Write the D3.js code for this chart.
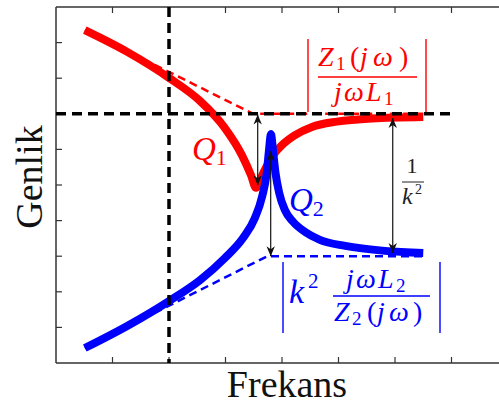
<!DOCTYPE html>
<html>
<head>
<meta charset="utf-8">
<script src="https://cdn.jsdelivr.net/npm/d3@7"></script>
<style>
  html, body { margin: 0; padding: 0; background: #fff; }
</style>
</head>
<body>
<script>
// Values (arbitrary frequency / amplitude units)
const xTicks = [0, 1, 2, 3, 4, 5, 6, 7, 8];
const yTicks = [0, 1, 2, 3, 4, 5, 6, 7, 8, 9, 10];

const redCurve = [
  [0.51, 9.35], [1.26, 8.74], [2.00, 8.01], [2.55, 7.36], [2.99, 6.60],
  [3.29, 5.84], [3.45, 5.28], [3.54, 4.92], [3.66, 5.31], [3.82, 5.79],
  [4.00, 6.12], [4.23, 6.40], [4.53, 6.63], [4.97, 6.78], [5.59, 6.87],
  [6.50, 6.91]
];
const blueCurve = [
  [0.51, 0.42], [1.26, 1.04], [2.00, 1.74], [2.55, 2.33], [2.99, 2.95],
  [3.31, 3.51], [3.52, 4.07], [3.65, 4.69], [3.73, 5.34], [3.77, 5.98],
  [3.805, 6.43], [3.84, 5.98], [3.885, 5.34], [3.95, 4.78], [4.05, 4.30],
  [4.20, 3.96], [4.41, 3.68], [4.67, 3.46], [5.12, 3.29], [5.82, 3.15],
  [6.50, 3.09]
];
const redAsymptote = [[0.51, 9.35], [3.49, 7.0], [6.5, 7.0]];
const blueAsymptote = [[0.51, 0.42], [3.74, 3.0], [6.5, 3.0]];

const cornerX = 2;      // vertical dashed guide
const levelY = 7;       // horizontal dashed guide
const levelEnd = 7;

// double arrows: x, y from, y to
const arrows = [
  [3.57, 6.98, 4.99],
  [3.80, 5.95, 3.0],
  [5.96, 6.88, 3.09]
];

const width = 499, height = 405;
const margin = { top: 7, left: 56, bottom: 42 };

const x = d3.scaleLinear().domain([0, 8]).range([margin.left, 508]);
const y = d3.scaleLinear().domain([0, 10]).range([height - margin.bottom, margin.top]);

const svg = d3.select("body").append("svg")
  .attr("width", width)
  .attr("height", height)
  .style("display", "block");

const defs = svg.append("defs");
defs.append("marker")
  .attr("id", "head")
  .attr("viewBox", "-11 -5 12 10")
  .attr("refX", 0)
  .attr("refY", 0)
  .attr("markerWidth", 12)
  .attr("markerHeight", 10)
  .attr("markerUnits", "userSpaceOnUse")
  .attr("orient", "auto-start-reverse")
  .append("path")
  .attr("d", "M0,0 L-10,-4.2 L-7,0 L-10,4.2 Z")
  .attr("fill", "#111");

// frame with inward ticks
const axisColor = "#333";
const frame = svg.append("g");
frame.append("line")
  .attr("x1", x(0)).attr("x2", x(0))
  .attr("y1", y(10)).attr("y2", y(0))
  .attr("stroke", axisColor).attr("stroke-width", 1.5);
[10, 0].forEach(v => {
  frame.append("line")
    .attr("x1", x(0)).attr("x2", width + 10)
    .attr("y1", y(v)).attr("y2", y(v))
    .attr("stroke", axisColor).attr("stroke-width", 1.5);
});

frame.selectAll(".ytick")
  .data(yTicks.slice(1, -1))
  .join("line")
  .attr("class", "ytick")
  .attr("x1", x(0)).attr("x2", x(0) + 6)
  .attr("y1", d => y(d)).attr("y2", d => y(d))
  .attr("stroke", axisColor).attr("stroke-width", 1.2);

frame.selectAll(".xtick-top")
  .data(xTicks.slice(1))
  .join("line")
  .attr("class", "xtick-top")
  .attr("x1", d => x(d)).attr("x2", d => x(d))
  .attr("y1", y(10)).attr("y2", y(10) + 6)
  .attr("stroke", axisColor).attr("stroke-width", 1.2);

frame.selectAll(".xtick-bot")
  .data(xTicks.slice(1))
  .join("line")
  .attr("class", "xtick-bot")
  .attr("x1", d => x(d)).attr("x2", d => x(d))
  .attr("y1", y(0)).attr("y2", y(0) - 6)
  .attr("stroke", axisColor).attr("stroke-width", 1.2);

// curves
const line = d3.line()
  .x(d => x(d[0]))
  .y(d => y(d[1]))
  .curve(d3.curveMonotoneX);
const straight = d3.line().x(d => x(d[0])).y(d => y(d[1]));

const red = "#ff0000", blue = "#0000ff";

svg.append("path")
  .attr("d", straight(redAsymptote))
  .attr("fill", "none").attr("stroke", red)
  .attr("stroke-width", 2.5).attr("stroke-dasharray", "8,5");

svg.append("path")
  .attr("d", straight(blueAsymptote))
  .attr("fill", "none").attr("stroke", blue)
  .attr("stroke-width", 2.5).attr("stroke-dasharray", "8,5");

svg.append("path")
  .attr("d", line(redCurve))
  .attr("fill", "none").attr("stroke", red)
  .attr("stroke-width", 8).attr("stroke-linejoin", "round");

svg.append("path")
  .attr("d", line(blueCurve))
  .attr("fill", "none").attr("stroke", blue)
  .attr("stroke-width", 8).attr("stroke-linejoin", "round");

// black dashed guides
svg.append("line")
  .attr("x1", x(0)).attr("x2", x(levelEnd))
  .attr("y1", y(levelY)).attr("y2", y(levelY))
  .attr("stroke", "#000").attr("stroke-width", 3.5)
  .attr("stroke-dasharray", "10,6");

svg.append("line")
  .attr("x1", x(cornerX)).attr("x2", x(cornerX))
  .attr("y1", y(10)).attr("y2", y(0))
  .attr("stroke", "#000").attr("stroke-width", 3.5)
  .attr("stroke-dasharray", "10,6");

// double arrows
svg.selectAll(".arrow")
  .data(arrows)
  .join("line")
  .attr("class", "arrow")
  .attr("x1", d => x(d[0])).attr("x2", d => x(d[0]))
  .attr("y1", d => y(d[1])).attr("y2", d => y(d[2]))
  .attr("stroke", "#111").attr("stroke-width", 1.2)
  .attr("marker-start", "url(#head)")
  .attr("marker-end", "url(#head)");

// math labels
const mathFont = "'Liberation Serif', 'DejaVu Serif', serif";

function qLabel(px, py, sub, color) {
  const t = svg.append("text")
    .attr("x", px).attr("y", py)
    .attr("fill", color)
    .style("font-family", mathFont)
    .style("font-size", "33px");
  t.append("tspan").style("font-style", "italic").text("Q");
  t.append("tspan").attr("dy", 5).style("font-size", "22px").text(sub);
}
qLabel(192, 160, "1", red);
qLabel(289, 211, "2", blue);

// glyph-by-glyph placement: [text, x, baseline shift, size, italic]
function term(g, base, parts, color, size) {
  const t = g.append("text")
    .attr("fill", color)
    .style("font-family", mathFont)
    .style("font-size", size + "px");
  parts.forEach(([s, px, dy, fs, it]) => {
    t.append("tspan")
      .attr("x", px)
      .attr("y", base + (dy || 0))
      .style("font-size", (fs || size) + "px")
      .style("font-style", it ? "italic" : "normal")
      .text(s);
  });
  return t;
}

// |Z1(jw) / jwL1|
const redLabel = svg.append("g");
[308, 426].forEach(bx => redLabel.append("line")
  .attr("x1", bx).attr("x2", bx).attr("y1", 39).attr("y2", 112)
  .attr("stroke", red).attr("stroke-width", 1.4));
term(redLabel, 66, [
  ["Z", 318, 0, 28, true], ["1", 336, 4, 19], ["(", 350, 0], ["j", 360, 0, 28, true],
  ["ω", 373, 0, 28, true], [")", 399, 0]
], red, 28);
redLabel.append("line")
  .attr("x1", 318).attr("x2", 417).attr("y1", 77).attr("y2", 77)
  .attr("stroke", red).attr("stroke-width", 1.3);
term(redLabel, 101, [
  ["j", 334, 0, 28, true], ["ω", 344, 0, 28, true], ["L", 366, 0, 28, true],
  ["1", 384, 4, 19]
], red, 28);

// |k^2 jwL2 / Z2(jw)|
const blueLabel = svg.append("g");
[283, 440].forEach(bx => blueLabel.append("line")
  .attr("x1", bx).attr("x2", bx).attr("y1", 262).attr("y2", 333)
  .attr("stroke", blue).attr("stroke-width", 1.4));
term(blueLabel, 303, [
  ["k", 289, 0, 34, true], ["2", 308, -15, 21]
], blue, 34);
term(blueLabel, 288, [
  ["j", 346, 0, 28, true], ["ω", 356, 0, 28, true], ["L", 378, 0, 28, true],
  ["2", 396, 4, 19]
], blue, 28);
blueLabel.append("line")
  .attr("x1", 333).attr("x2", 430).attr("y1", 296).attr("y2", 296)
  .attr("stroke", blue).attr("stroke-width", 1.3);
term(blueLabel, 321, [
  ["Z", 334, 0, 28, true], ["2", 352, 4, 19], ["(", 367, 0], ["j", 377, 0, 28, true],
  ["ω", 389, 0, 28, true], [")", 413, 0]
], blue, 28);

// 1/k^2
const kLabel = svg.append("g");
kLabel.append("text")
  .attr("x", 412).attr("y", 173)
  .attr("text-anchor", "middle")
  .attr("fill", "#222")
  .style("font-family", mathFont).style("font-size", "22px")
  .text("1");
kLabel.append("line")
  .attr("x1", 402).attr("x2", 424).attr("y1", 182).attr("y2", 182)
  .attr("stroke", "#222").attr("stroke-width", 1);
term(kLabel, 204, [
  ["k", 402, 0, 24, true], ["2", 415, -10, 14]
], "#222", 24);

// axis titles
const titleFont = "'Liberation Serif', 'DejaVu Serif', serif";
svg.append("text")
  .attr("transform", "translate(42,177) rotate(-90)")
  .attr("text-anchor", "middle")
  .attr("fill", "#111")
  .style("font-family", titleFont)
  .style("font-size", "38px")
  .text("Genlik");

svg.append("text")
  .attr("x", 287).attr("y", 397)
  .attr("text-anchor", "middle")
  .attr("fill", "#111")
  .style("font-family", titleFont)
  .style("font-size", "38px")
  .text("Frekans");
</script>
</body>
</html>
